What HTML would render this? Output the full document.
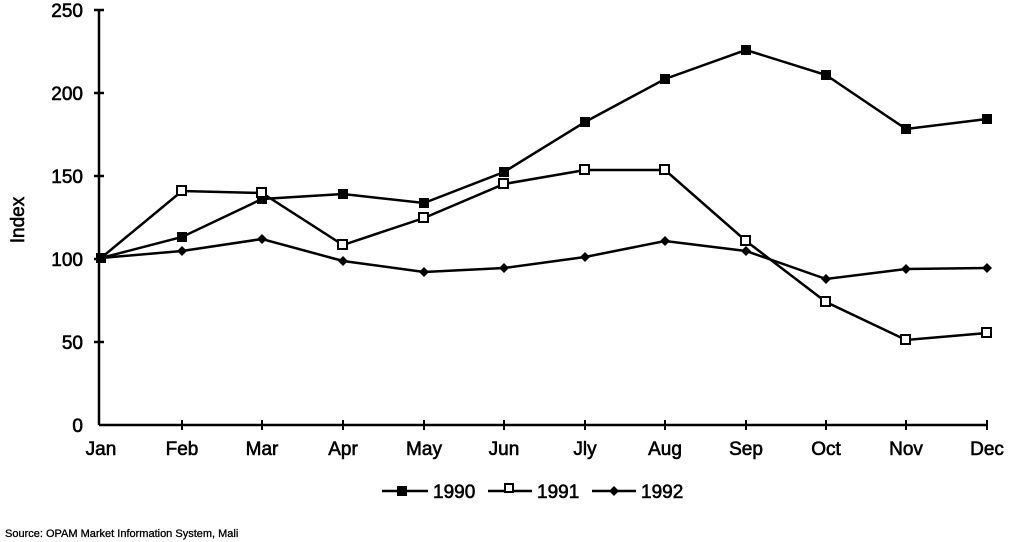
<!DOCTYPE html>
<html><head><meta charset="utf-8"><style>
html,body{margin:0;padding:0;background:#fff;}
svg{display:block;font-family:"Liberation Sans",Arial,sans-serif;}
svg text{stroke:#000;stroke-width:0.6;}
</style></head><body>
<svg width="1010" height="542" viewBox="0 0 1010 542">
<g stroke="#000" stroke-width="2.5" fill="none">
<line x1="99" y1="10" x2="99" y2="425"/>
<line x1="99" y1="425" x2="988" y2="425"/>
<line x1="94" y1="10" x2="104" y2="10"/>
<line x1="94" y1="93" x2="104" y2="93"/>
<line x1="94" y1="176" x2="104" y2="176"/>
<line x1="94" y1="259" x2="104" y2="259"/>
<line x1="94" y1="342" x2="104" y2="342"/>
<g stroke-width="2">
<line x1="182" y1="420" x2="182" y2="430"/><line x1="262" y1="420" x2="262" y2="430"/>
<line x1="343" y1="420" x2="343" y2="430"/><line x1="424" y1="420" x2="424" y2="430"/>
<line x1="504" y1="420" x2="504" y2="430"/><line x1="585" y1="420" x2="585" y2="430"/>
<line x1="665" y1="420" x2="665" y2="430"/><line x1="746" y1="420" x2="746" y2="430"/>
<line x1="826" y1="420" x2="826" y2="430"/><line x1="906" y1="420" x2="906" y2="430"/>
<line x1="987" y1="420" x2="987" y2="430"/>
</g>
<polyline points="101,258 182,237 262,199 343,194 424,203 504,172 585,122 665,79 746,50 826,75 906,129 987,119"/>
<polyline points="101,258 182,191 262,193 343,245 424,218 504,184 585,170 665,170 746,241 826,302 906,340 987,333"/>
<polyline points="101,258 182,251 262,239 343,261 424,272 504,268 585,257 665,241 746,251 826,279 906,269 987,268"/>
</g>
<g fill="#000">
<rect x="96" y="253" width="10" height="10"/><rect x="177" y="232" width="10" height="10"/><rect x="257" y="194" width="10" height="10"/><rect x="338" y="189" width="10" height="10"/><rect x="419" y="198" width="10" height="10"/><rect x="499" y="167" width="10" height="10"/><rect x="580" y="117" width="10" height="10"/><rect x="660" y="74" width="10" height="10"/><rect x="741" y="45" width="10" height="10"/><rect x="821" y="70" width="10" height="10"/><rect x="901" y="124" width="10" height="10"/><rect x="982" y="114" width="10" height="10"/>
</g>
<g fill="#fff" stroke="#000" stroke-width="2">
<rect x="177" y="186" width="9" height="9"/><rect x="257" y="188" width="9" height="9"/><rect x="338" y="240" width="9" height="9"/><rect x="419" y="213" width="9" height="9"/><rect x="499" y="179" width="9" height="9"/><rect x="580" y="165" width="9" height="9"/><rect x="660" y="165" width="9" height="9"/><rect x="741" y="236" width="9" height="9"/><rect x="821" y="297" width="9" height="9"/><rect x="901" y="335" width="9" height="9"/><rect x="982" y="328" width="9" height="9"/>
</g>
<g fill="#000">
<polygon points="182,246 187,251 182,256 177,251"/><polygon points="262,234 267,239 262,244 257,239"/><polygon points="343,256 348,261 343,266 338,261"/><polygon points="424,267 429,272 424,277 419,272"/><polygon points="504,263 509,268 504,273 499,268"/><polygon points="585,252 590,257 585,262 580,257"/><polygon points="665,236 670,241 665,246 660,241"/><polygon points="746,246 751,251 746,256 741,251"/><polygon points="826,274 831,279 826,284 821,279"/><polygon points="906,264 911,269 906,274 901,269"/><polygon points="987,263 992,268 987,273 982,268"/>
</g>
<g font-size="19" text-anchor="end" fill="#000">
<text x="83" y="17">250</text><text x="83" y="100">200</text><text x="83" y="183">150</text><text x="83" y="266">100</text><text x="83" y="349">50</text><text x="83" y="432">0</text>
</g>
<text x="24" y="220" font-size="19" text-anchor="middle" transform="rotate(-90 24 220)">Index</text>
<g font-size="19" text-anchor="middle">
<text x="101" y="455">Jan</text><text x="182" y="455">Feb</text><text x="262" y="455">Mar</text><text x="343" y="455">Apr</text><text x="424" y="455">May</text><text x="504" y="455">Jun</text><text x="585" y="455">Jly</text><text x="665" y="455">Aug</text><text x="746" y="455">Sep</text><text x="826" y="455">Oct</text><text x="906" y="455">Nov</text><text x="987" y="455">Dec</text>
</g>
<g stroke="#000" stroke-width="2.5">
<line x1="382" y1="491" x2="428" y2="491"/>
<line x1="488" y1="491" x2="532" y2="491"/>
<line x1="592" y1="491" x2="636" y2="491"/>
</g>
<rect x="397" y="486" width="10" height="10" fill="#000"/>
<rect x="505" y="484" width="8" height="8" fill="#fff" stroke="#000" stroke-width="2"/>
<polygon points="614,486 619,491 614,496 609,491" fill="#000"/>
<g font-size="19"><text x="433" y="498">1990</text><text x="537" y="498">1991</text><text x="641" y="498">1992</text></g>
<text x="5" y="537" font-size="11" style="stroke-width:0.3">Source:  OPAM Market Information System, Mali</text>
</svg>
</body></html>
